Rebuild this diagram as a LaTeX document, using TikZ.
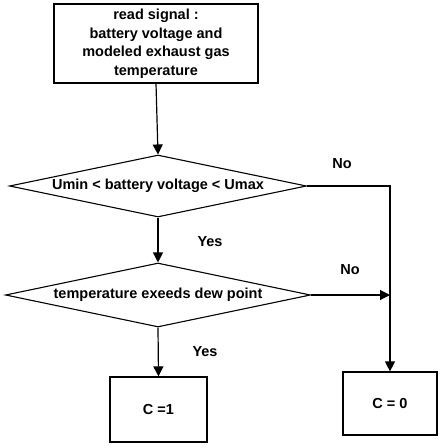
\documentclass[tikz,border=0pt]{standalone}
\usepackage{fontspec}
\setmainfont{Liberation Sans}
\usetikzlibrary{shapes.geometric,arrows.meta}
\begin{document}
\begin{tikzpicture}[x=1pt,y=-1pt,
  every node/.style={font=\bfseries\fontsize{14.5}{18.5}\selectfont},
  line/.style={line width=1.2pt},
  arr/.style={line, -{Triangle[width=10pt,length=10pt]}},
  boxst/.style={draw, line width=1.2pt, inner sep=0pt, align=center},
  dia/.style={draw, line width=1.1pt, shape=diamond, inner sep=0pt},
  lbl/.style={inner sep=0pt}]
\useasboundingbox (0,0) rectangle (448,448);
\node[boxst, minimum width=204pt, minimum height=79pt, text depth=3pt] (read) at (156,43.5)
  {read signal :\\battery voltage and\\modeled exhaust gas\\temperature};
\node[dia, aspect=4.8, minimum width=297pt, minimum height=62pt] (d1) at (158,186)
  {Umin < battery voltage < Umax};
\node[dia, aspect=4.8, minimum width=305pt, minimum height=64pt] (d2) at (158,295)
  {temperature exeeds dew point};
\node[boxst, minimum width=97pt, minimum height=65pt] (c1) at (158.5,409.5) {C =1};
\node[boxst, minimum width=94pt, minimum height=63pt] (c0) at (390,403.5) {C = 0};
\coordinate (j) at (390,295);
\draw[arr] (read.south) -- (d1.north);
\draw[arr] (d1.south) -- (d2.north);
\draw[arr] (d2.south) -- (c1.north);
\draw[arr] (d1.east) -| (c0.north);
\draw[arr] (d2.east) -- (j);
\node[lbl] (no1) at (342,164) {No};
\node[lbl] (yes1) at (210,242) {Yes};
\node[lbl] (no2) at (350,270) {No};
\node[lbl] (yes2) at (205,352) {Yes};
\end{tikzpicture}
\end{document}
